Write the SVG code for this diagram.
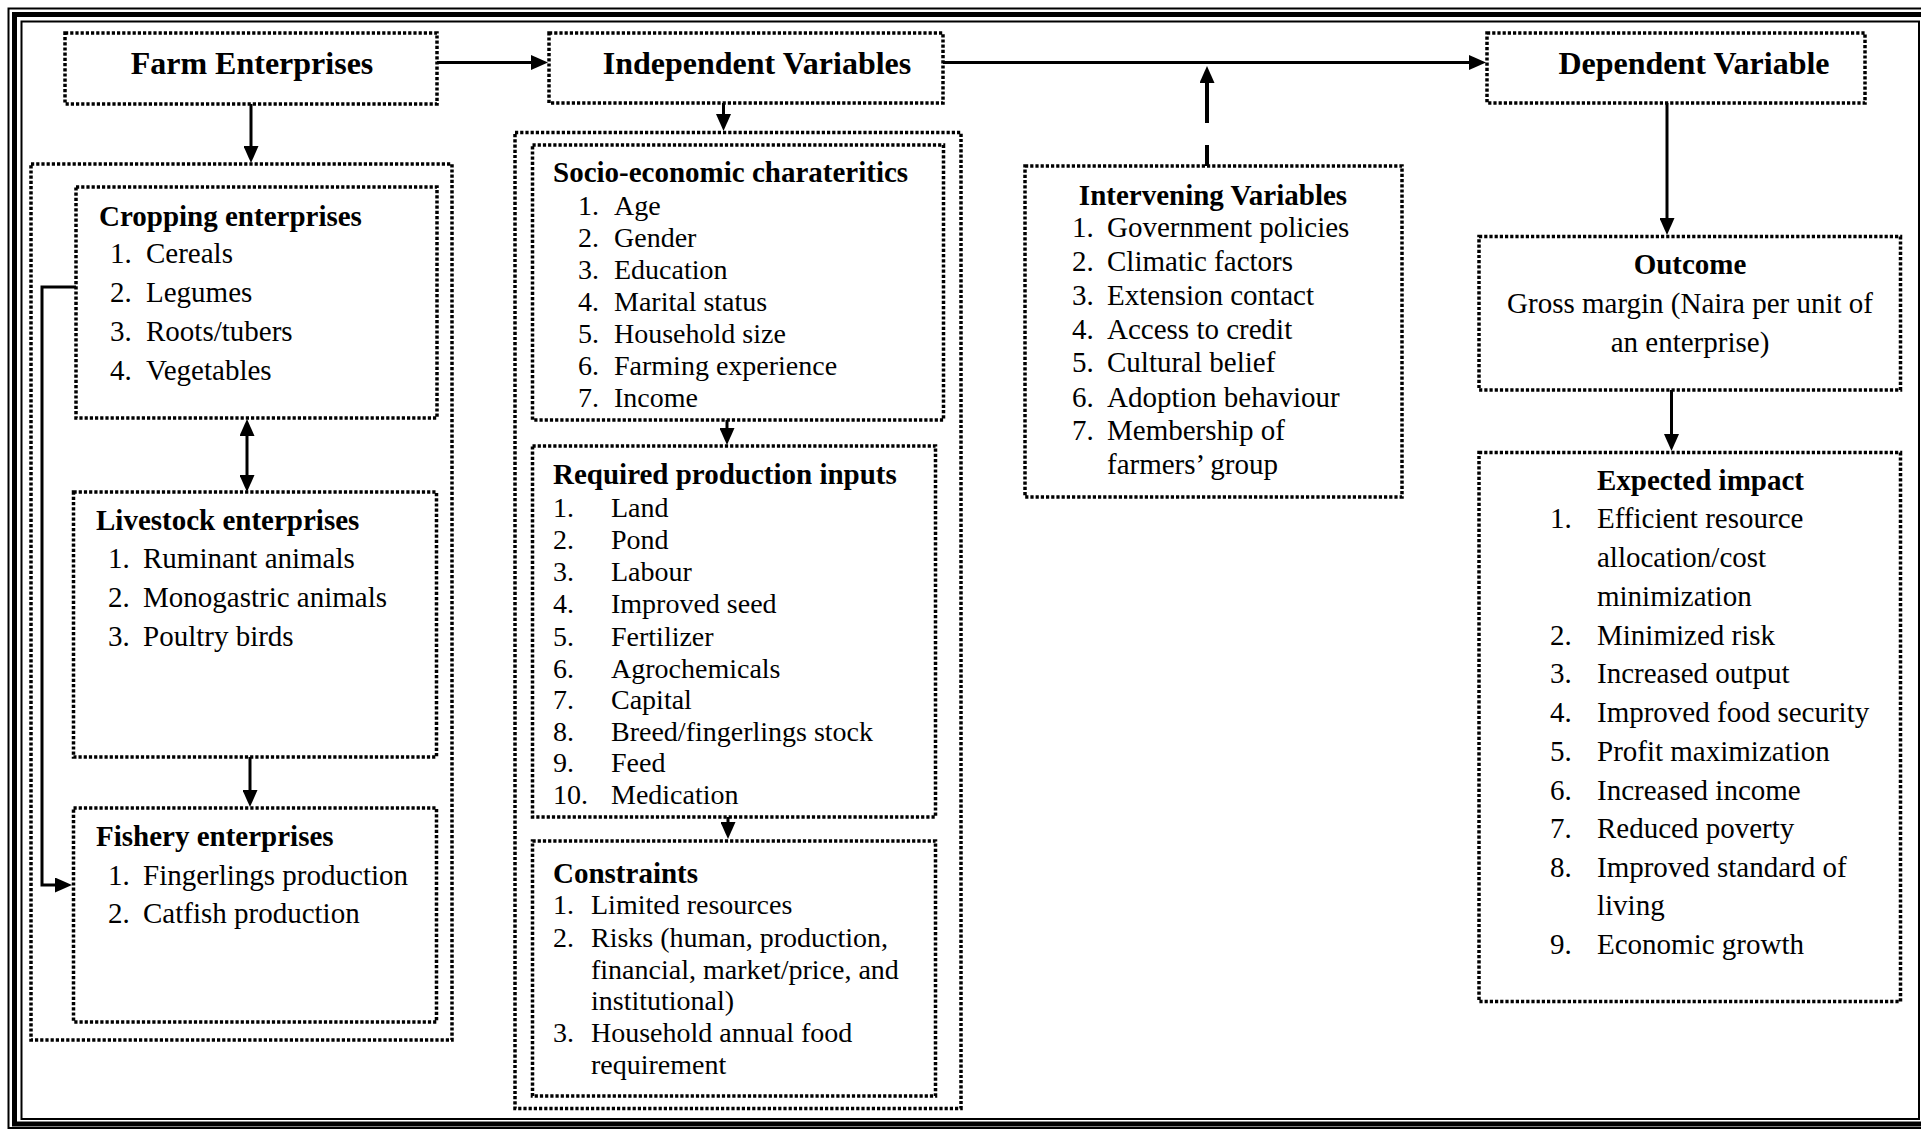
<svg xmlns="http://www.w3.org/2000/svg" width="1921" height="1129" viewBox="0 0 1921 1129">
<defs>
<style>
.t{font-family:"Liberation Serif","Times New Roman",serif;fill:#000}
.h{font-size:32px;font-weight:bold}
.b{font-size:29px;font-weight:bold}
.i{font-size:29px}
.m{font-size:28px}
.c{text-anchor:middle}
.box{fill:none;stroke:#000;stroke-width:3.5;stroke-dasharray:3.2 2}
.ln{fill:none;stroke:#000;stroke-width:3}
.dash{fill:none;stroke:#000;stroke-width:4;stroke-dasharray:21 22 60}
</style>
<marker id="ah" viewBox="0 0 17 15" markerWidth="17" markerHeight="15" refX="9" refY="7.5" orient="auto-start-reverse" markerUnits="userSpaceOnUse" preserveAspectRatio="none">
<path d="M0,0 L17,7.5 L0,15 z" fill="#000"/>
</marker>
</defs>
<rect width="1921" height="1129" fill="#fff"/>
<g id="frame" fill="none" stroke="#000">
<rect x="8.5" y="8.5" width="1924" height="1119.5" stroke-width="2"/>
<rect x="14.5" y="14.5" width="1912" height="1109.5" stroke-width="5"/>
<rect x="21.5" y="21.5" width="1897.5" height="1097.5" stroke-width="2"/>
</g>

<g id="connectors">
<line class="ln" x1="437" y1="62.5" x2="540" y2="62.5" marker-end="url(#ah)"/>
<line class="ln" x1="943" y1="62.5" x2="1478" y2="62.5" marker-end="url(#ah)"/>
<line class="dash" x1="1207" y1="166" x2="1207" y2="74" marker-end="url(#ah)"/>
<line class="ln" x1="251" y1="104" x2="251" y2="155" marker-end="url(#ah)"/>
<line class="ln" x1="247" y1="427" x2="247" y2="484" marker-start="url(#ah)" marker-end="url(#ah)"/>
<line class="ln" x1="250" y1="757" x2="250" y2="799" marker-end="url(#ah)"/>
<path class="ln" d="M76,287 H42 V885 H64" marker-end="url(#ah)"/>
<line class="ln" x1="723.5" y1="103" x2="723.5" y2="123" marker-end="url(#ah)"/>
<line class="ln" x1="727" y1="420" x2="727" y2="437" marker-end="url(#ah)"/>
<line class="ln" x1="728" y1="817" x2="728" y2="831" marker-end="url(#ah)"/>
<line class="ln" x1="1667" y1="103" x2="1667" y2="227" marker-end="url(#ah)"/>
<line class="ln" x1="1671.5" y1="390" x2="1671.5" y2="443" marker-end="url(#ah)"/>
</g>

<g id="farm-enterprises">
<rect class="box" x="65" y="33" width="372" height="71"/>
<text class="t h c" x="252" y="74">Farm Enterprises</text>
</g>

<g id="independent-variables">
<rect class="box" x="549" y="33" width="394" height="70"/>
<text class="t h c" x="757" y="74">Independent Variables</text>
</g>

<g id="dependent-variable">
<rect class="box" x="1487" y="33" width="378" height="70"/>
<text class="t h c" x="1694" y="74">Dependent Variable</text>
</g>

<g id="farm-container">
<rect class="box" x="31" y="164" width="421" height="876"/>
</g>

<g id="cropping-enterprises">
<rect class="box" x="76" y="187" width="361" height="231"/>
<text class="t b" x="99" y="226">Cropping enterprises</text>
<text class="t i" x="110" y="263">1.</text><text class="t i" x="146" y="263">Cereals</text>
<text class="t i" x="110" y="302">2.</text><text class="t i" x="146" y="302">Legumes</text>
<text class="t i" x="110" y="341">3.</text><text class="t i" x="146" y="341">Roots/tubers</text>
<text class="t i" x="110" y="380">4.</text><text class="t i" x="146" y="380">Vegetables</text>
</g>

<g id="livestock-enterprises">
<rect class="box" x="73.5" y="492" width="363" height="265"/>
<text class="t b" x="96" y="530">Livestock enterprises</text>
<text class="t i" x="108" y="568">1.</text><text class="t i" x="143" y="568">Ruminant animals</text>
<text class="t i" x="108" y="607">2.</text><text class="t i" x="143" y="607">Monogastric animals</text>
<text class="t i" x="108" y="646">3.</text><text class="t i" x="143" y="646">Poultry birds</text>
</g>

<g id="fishery-enterprises">
<rect class="box" x="73.5" y="808" width="363" height="214"/>
<text class="t b" x="96" y="846">Fishery enterprises</text>
<text class="t i" x="108" y="885">1.</text><text class="t i" x="143" y="885">Fingerlings production</text>
<text class="t i" x="108" y="923">2.</text><text class="t i" x="143" y="923">Catfish production</text>
</g>

<g id="independent-container">
<rect class="box" x="515" y="132.5" width="446" height="976"/>
</g>

<g id="socio-economic">
<rect class="box" x="532.5" y="145" width="411" height="275"/>
<text class="t b" x="553" y="182">Socio-economic charateritics</text>
<text class="t m" x="578" y="215">1.</text><text class="t m" x="614" y="215">Age</text>
<text class="t m" x="578" y="247">2.</text><text class="t m" x="614" y="247">Gender</text>
<text class="t m" x="578" y="279">3.</text><text class="t m" x="614" y="279">Education</text>
<text class="t m" x="578" y="311">4.</text><text class="t m" x="614" y="311">Marital status</text>
<text class="t m" x="578" y="343">5.</text><text class="t m" x="614" y="343">Household size</text>
<text class="t m" x="578" y="375">6.</text><text class="t m" x="614" y="375">Farming experience</text>
<text class="t m" x="578" y="407">7.</text><text class="t m" x="614" y="407">Income</text>
</g>

<g id="required-inputs">
<rect class="box" x="532.5" y="446" width="403" height="371"/>
<text class="t b" x="553" y="484">Required production inputs</text>
<text class="t m" x="553" y="517">1.</text><text class="t m" x="611" y="517">Land</text>
<text class="t m" x="553" y="549">2.</text><text class="t m" x="611" y="549">Pond</text>
<text class="t m" x="553" y="581">3.</text><text class="t m" x="611" y="581">Labour</text>
<text class="t m" x="553" y="613">4.</text><text class="t m" x="611" y="613">Improved seed</text>
<text class="t m" x="553" y="645.5">5.</text><text class="t m" x="611" y="645.5">Fertilizer</text>
<text class="t m" x="553" y="677.5">6.</text><text class="t m" x="611" y="677.5">Agrochemicals</text>
<text class="t m" x="553" y="709">7.</text><text class="t m" x="611" y="709">Capital</text>
<text class="t m" x="553" y="740.5">8.</text><text class="t m" x="611" y="740.5">Breed/fingerlings stock</text>
<text class="t m" x="553" y="772">9.</text><text class="t m" x="611" y="772">Feed</text>
<text class="t m" x="553" y="804">10.</text><text class="t m" x="611" y="804">Medication</text>
</g>

<g id="constraints">
<rect class="box" x="532.5" y="841" width="403" height="255"/>
<text class="t b" x="553" y="883">Constraints</text>
<text class="t m" x="553" y="914">1.</text><text class="t m" x="591" y="914">Limited resources</text>
<text class="t m" x="553" y="946.5">2.</text><text class="t m" x="591" y="946.5">Risks (human, production,</text>
<text class="t m" x="591" y="978.5">financial, market/price, and</text>
<text class="t m" x="591" y="1009.5">institutional)</text>
<text class="t m" x="553" y="1041.5">3.</text><text class="t m" x="591" y="1041.5">Household annual food</text>
<text class="t m" x="591" y="1073.5">requirement</text>
</g>

<g id="intervening-variables">
<rect class="box" x="1025" y="166" width="377" height="331"/>
<text class="t b c" x="1213" y="205">Intervening Variables</text>
<text class="t i" x="1072" y="237">1.</text><text class="t i" x="1107" y="237">Government policies</text>
<text class="t i" x="1072" y="271">2.</text><text class="t i" x="1107" y="271">Climatic factors</text>
<text class="t i" x="1072" y="305">3.</text><text class="t i" x="1107" y="305">Extension contact</text>
<text class="t i" x="1072" y="338.5">4.</text><text class="t i" x="1107" y="338.5">Access to credit</text>
<text class="t i" x="1072" y="372">5.</text><text class="t i" x="1107" y="372">Cultural belief</text>
<text class="t i" x="1072" y="406.5">6.</text><text class="t i" x="1107" y="406.5">Adoption behaviour</text>
<text class="t i" x="1072" y="440">7.</text><text class="t i" x="1107" y="440">Membership of</text>
<text class="t i" x="1107" y="473.5">farmers’ group</text>
</g>

<g id="outcome">
<rect class="box" x="1479" y="236.5" width="421.5" height="153.5"/>
<text class="t b c" x="1690" y="274">Outcome</text>
<text class="t i c" x="1690" y="313">Gross margin (Naira per unit of</text>
<text class="t i c" x="1690" y="352">an enterprise)</text>
</g>

<g id="expected-impact">
<rect class="box" x="1479" y="452.5" width="421.5" height="549"/>
<text class="t b" x="1597" y="490">Expected impact</text>
<text class="t i" x="1550" y="528">1.</text><text class="t i" x="1597" y="528">Efficient resource</text>
<text class="t i" x="1597" y="567">allocation/cost</text>
<text class="t i" x="1597" y="605.5">minimization</text>
<text class="t i" x="1550" y="644.5">2.</text><text class="t i" x="1597" y="644.5">Minimized risk</text>
<text class="t i" x="1550" y="683">3.</text><text class="t i" x="1597" y="683">Increased output</text>
<text class="t i" x="1550" y="721.5">4.</text><text class="t i" x="1597" y="721.5">Improved food security</text>
<text class="t i" x="1550" y="760.5">5.</text><text class="t i" x="1597" y="760.5">Profit maximization</text>
<text class="t i" x="1550" y="799.5">6.</text><text class="t i" x="1597" y="799.5">Increased income</text>
<text class="t i" x="1550" y="838">7.</text><text class="t i" x="1597" y="838">Reduced poverty</text>
<text class="t i" x="1550" y="876.5">8.</text><text class="t i" x="1597" y="876.5">Improved standard of</text>
<text class="t i" x="1597" y="915">living</text>
<text class="t i" x="1550" y="953.5">9.</text><text class="t i" x="1597" y="953.5">Economic growth</text>
</g>
</svg>
